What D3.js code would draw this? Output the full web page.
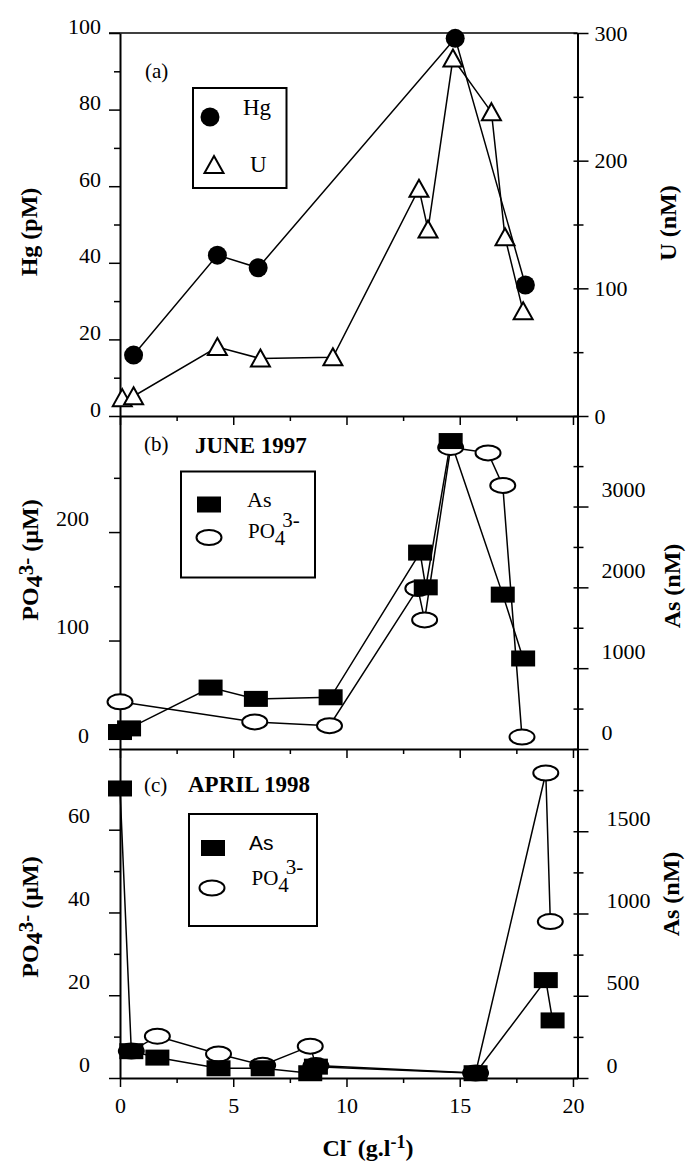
<!DOCTYPE html>
<html>
<head>
<meta charset="utf-8">
<script src="https://cdn.jsdelivr.net/npm/d3@7/dist/d3.min.js"></script>
<style>
body { margin: 0; background: #fff; }
text { font-family: "Liberation Serif", "Times New Roman", serif; fill: #000; }
</style>
</head>
<body>
<svg></svg>
<script>
// chloride axis, shared by the three panels
const clTicks = [0, 2.5, 5, 7.5, 10, 12.5, 15, 17.5, 20];
const clLabels = [0, 5, 10, 15, 20];

// (a) Hg (pM) and U (nM)
const hgCl = [0.6, 4.3, 6.1, 14.8, 17.9];
const hgVal = [15.9, 42.0, 38.7, 98.6, 34.2];
const uCl = [0.1, 0.6, 4.3, 6.2, 9.4, 13.2, 13.6, 14.7, 16.4, 17.0, 17.8];
const uVal = [14, 15.5, 54, 45, 46, 178, 146, 280, 238, 140, 82];
const hgTicks = [0, 10, 20, 30, 40, 50, 60, 70, 80, 90, 100];
const hgLabels = [0, 20, 40, 60, 80, 100];
const uTicks = [0, 50, 100, 150, 200, 250, 300];
const uLabels = [0, 100, 200, 300];

// (b) June 1997: As (nM), PO4 (uM)
const asJuneCl = [0, 0.4, 4.0, 6.0, 9.3, 13.25, 13.5, 14.6, 16.9, 17.8];
const asJuneVal = [210, 255, 760, 620, 640, 2430, 2000, 3810, 1910, 1120];
const po4JuneCl = [0, 5.95, 9.25, 13.15, 13.45, 14.6, 16.25, 16.9, 17.75];
const po4JuneVal = [43.5, 25, 21.5, 148, 119, 278, 273, 243, 11];
const po4JuneTicks = [0, 50, 100, 150, 200, 250];
const po4JuneLabels = [0, 100, 200];
const asJuneTicks = [0, 500, 1000, 1500, 2000, 2500, 3000, 3500];
const asJuneLabels = [0, 1000, 2000, 3000];

// (c) April 1998
const asAprCl = [0, 0.5, 1.65, 4.35, 6.3, 8.4, 8.65, 15.7, 18.8, 19.1];
const asAprVal = [1760, 163, 124, 59, 59, 29, 69, 29, 595, 350];
const po4AprCl = [0.5, 1.65, 4.35, 6.3, 8.4, 8.65, 15.7, 18.8, 19.0];
const po4AprVal = [6.5, 10.1, 5.8, 3.1, 7.7, 3.0, 1.2, 73.7, 37.8];
const po4AprTicks = [0, 10, 20, 30, 40, 50, 60, 70];
const po4AprLabels = [0, 20, 40, 60];
const asAprTicks = [0, 250, 500, 750, 1000, 1250, 1500, 1750];
const asAprLabels = [0, 500, 1000, 1500];

const X_LEFT = 120, X_RIGHT = 577.5;
const svg = d3.select("svg").attr("width", 686).attr("height", 1164);

const x = d3.scaleLinear().domain([0, 20.2]).range([X_LEFT, X_RIGHT]);
const yHg = d3.scaleLinear().domain([0, 100]).range([416, 33]);
const yU = d3.scaleLinear().domain([0, 300]).range([416, 33]);
const yPo4June = d3.scaleLinear().domain([0, 307]).range([749, 416]);
const yAsJune = d3.scaleLinear().domain([0, 4120]).range([749, 416]);
const yPo4Apr = d3.scaleLinear().domain([0, 79.5]).range([1078, 749]);
const yAsApr = d3.scaleLinear().domain([0, 2000]).range([1078, 749]);

function yAxis(scale, side, ticks, labels, gap, dy) {
  const left = side == "left";
  const ax = (left ? d3.axisLeft(scale) : d3.axisRight(scale))
    .tickValues(ticks).tickSizeOuter(0)
    .tickFormat(v => labels.includes(v) ? v : "");
  const g = svg.append("g")
    .attr("transform", "translate(" + (left ? X_LEFT : X_RIGHT) + ",0)")
    .call(ax)
    .attr("font-family", null).attr("font-size", 22);
  g.select(".domain").attr("stroke-width", 2);
  g.selectAll(".tick line").attr("stroke-width", 1.5)
    .attr("x1", left ? 0 : -4)
    .attr("x2", v => (left ? -1 : 1) * (labels.includes(v) ? 11 : 6));
  g.selectAll(".tick text").attr("x", left ? -gap : gap).attr("dy", dy);
}

function xAxis(yPos, withLabels) {
  const ax = d3.axisBottom(x).tickValues(clTicks).tickSizeOuter(0)
    .tickFormat(v => withLabels && clLabels.includes(v) ? v : "");
  const g = svg.append("g").attr("transform", "translate(0," + yPos + ")")
    .call(ax)
    .attr("font-family", null).attr("font-size", 22);
  g.select(".domain").attr("stroke-width", 2);
  g.selectAll(".tick line").attr("stroke-width", 1.5)
    .attr("y2", v => clLabels.includes(v) ? 9 : 5);
  g.selectAll(".tick text").attr("y", 35).attr("dy", 0);
}

function drawLine(xs, ys, yScale) {
  svg.append("path").datum(d3.zip(xs, ys))
    .attr("fill", "none").attr("stroke", "#000").attr("stroke-width", 1.5)
    .attr("d", d3.line().x(d => x(d[0])).y(d => yScale(d[1])));
}

function drawMarks(xs, ys, yScale, shape) {
  svg.append("g").selectAll("g").data(d3.zip(xs, ys)).join("g")
    .attr("transform", d => "translate(" + x(d[0]) + "," + yScale(d[1]) + ")")
    .each(function() { shape(d3.select(this)); });
}

const dot = s => s.append("circle").attr("r", 9.5).attr("fill", "#000");
const tri = s => s.append("path").attr("d", "M0,-9L9.5,8L-9.5,8Z")
  .attr("fill", "#fff").attr("stroke", "#000").attr("stroke-width", 2);
const box = s => s.append("rect").attr("x", -12).attr("y", -8).attr("width", 24).attr("height", 16)
  .attr("fill", "#000");
const oval = s => s.append("ellipse").attr("rx", 12.5).attr("ry", 7.5)
  .attr("fill", "#fff").attr("stroke", "#000").attr("stroke-width", 2);

// axes
svg.append("line").attr("x1", 109).attr("x2", X_RIGHT).attr("y1", 33).attr("y2", 33)
  .attr("stroke", "#000").attr("stroke-width", 1.5);
yAxis(yHg, "left", hgTicks, hgLabels, 19, 0);
yAxis(yU, "right", uTicks, uLabels, 17, "0.32em");
yAxis(yPo4June, "left", po4JuneTicks, po4JuneLabels, 31, -7);
yAxis(yAsJune, "right", asJuneTicks, asJuneLabels, 24, -10);
yAxis(yPo4Apr, "left", po4AprTicks, po4AprLabels, 30, -7);
yAxis(yAsApr, "right", asAprTicks, asAprLabels, 29, -6);
xAxis(416, false);
xAxis(749, false);
xAxis(1078, true);

// (a)
drawLine(hgCl, hgVal, yHg);
drawLine(uCl, uVal, yU);
drawMarks(hgCl, hgVal, yHg, dot);
drawMarks(uCl, uVal, yU, tri);

// (b)
drawLine(po4JuneCl, po4JuneVal, yPo4June);
drawLine(asJuneCl, asJuneVal, yAsJune);
drawMarks(po4JuneCl, po4JuneVal, yPo4June, oval);
drawMarks(asJuneCl, asJuneVal, yAsJune, box);

// (c)
drawLine(po4AprCl, po4AprVal, yPo4Apr);
drawLine(asAprCl, asAprVal, yAsApr);
drawMarks(po4AprCl, po4AprVal, yPo4Apr, oval);
drawMarks(asAprCl, asAprVal, yAsApr, box);

// panel captions
svg.append("text").attr("x", 145).attr("y", 78).attr("font-size", 21).text("(a)");
svg.append("text").attr("x", 144).attr("y", 451).attr("font-size", 21).text("(b)");
svg.append("text").attr("x", 195).attr("y", 453).attr("font-size", 23).attr("font-weight", "bold").text("JUNE 1997");
svg.append("text").attr("x", 144).attr("y", 792).attr("font-size", 21).text("(c)");
svg.append("text").attr("x", 188).attr("y", 792).attr("font-size", 23).attr("font-weight", "bold").text("APRIL 1998");

// legends
function legendBox(x0, y0, w, h) {
  svg.append("rect").attr("x", x0).attr("y", y0).attr("width", w).attr("height", h)
    .attr("fill", "#fff").attr("stroke", "#000").attr("stroke-width", 2);
}
function po4Label(x0, y0, size) {
  const t = svg.append("text").attr("x", x0).attr("y", y0).attr("font-size", size);
  t.append("tspan").text("PO");
  t.append("tspan").attr("dy", 7).text("4");
  t.append("tspan").attr("dx", -3).attr("dy", -18).text("3-");
}

legendBox(193, 88, 93.5, 100);
dot(svg.append("g").attr("transform", "translate(210,117)"));
svg.append("text").attr("x", 243).attr("y", 115).attr("font-size", 23).text("Hg");
tri(svg.append("g").attr("transform", "translate(214,165)"));
svg.append("text").attr("x", 250).attr("y", 172).attr("font-size", 23).text("U");

legendBox(181, 471.5, 134, 106);
box(svg.append("g").attr("transform", "translate(209,504.5)"));
svg.append("text").attr("x", 247).attr("y", 507).attr("font-size", 22).text("As");
oval(svg.append("g").attr("transform", "translate(209,537.5)"));
po4Label(248, 538, 21);

legendBox(189, 814, 128, 112);
box(svg.append("g").attr("transform", "translate(213,848)"));
svg.append("text").attr("x", 249).attr("y", 850).attr("font-size", 21)
  .style("font-family", "'Liberation Sans', Arial, sans-serif").text("As");
oval(svg.append("g").attr("transform", "translate(212,888)"));
po4Label(251.5, 885, 21);

// axis titles
function vTitle(tx, ty) {
  return svg.append("text").attr("transform", "translate(" + tx + "," + ty + ") rotate(-90)")
    .attr("text-anchor", "middle").attr("font-size", 24).attr("font-weight", "bold");
}
vTitle(37, 232).text("Hg (pM)");
vTitle(676, 223).text("U (nM)");
vTitle(680, 586).text("As (nM)");
vTitle(679, 894).text("As (nM)");
[560, 917].forEach(function(cy) {
  const t = vTitle(38, cy);
  t.append("tspan").text("PO");
  t.append("tspan").attr("dy", 4).text("4");
  t.append("tspan").attr("dy", -9).attr("font-size", 21).text("3-");
  t.append("tspan").attr("dy", 5).text(" (µM)");
});

const xt = svg.append("text").attr("x", 368).attr("y", 1156).attr("text-anchor", "middle")
  .attr("font-size", 24).attr("font-weight", "bold");
xt.append("tspan").text("Cl");
xt.append("tspan").attr("dy", -10).attr("font-size", 16).text("-");
xt.append("tspan").attr("dy", 10).text(" (g.l");
xt.append("tspan").attr("dy", -8).attr("font-size", 18).text("-1");
xt.append("tspan").attr("dy", 8).text(")");
</script>
</body>
</html>
